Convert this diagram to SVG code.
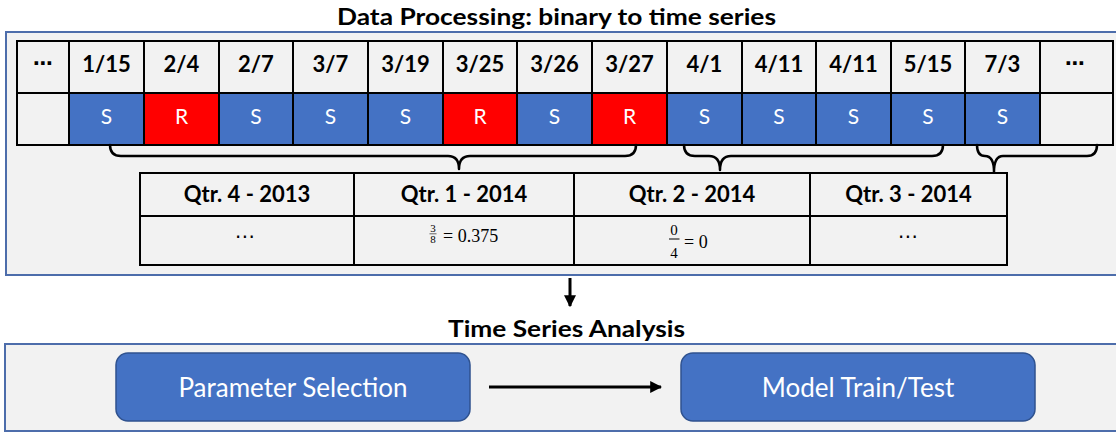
<svg xmlns="http://www.w3.org/2000/svg" width="1116" height="432" viewBox="0 0 1116 432">
<style>
.panel{fill:#f2f2f2;stroke:#4d6dab;stroke-width:2}
.title{font-family:Lato,"Liberation Sans",sans-serif;font-weight:bold;font-size:23px;fill:#000;text-anchor:middle}
.cell{fill:#f2f2f2;stroke:#000;stroke-width:2}
.s{fill:#4472c4;stroke:#000;stroke-width:2}
.r{fill:#ff0000;stroke:#000;stroke-width:2}
.hd{font-family:Lato,"Liberation Sans",sans-serif;font-weight:bold;font-size:22px;fill:#000;text-anchor:middle}
.v{font-family:Lato,"Liberation Sans",sans-serif;font-size:21px;fill:#fff;text-anchor:middle}
.dots{font-family:"DejaVu Sans",sans-serif;font-size:20px;fill:#000;text-anchor:middle}
.math{font-family:"Liberation Serif","DejaVu Serif",serif;fill:#000}
.brace{fill:none;stroke:#000;stroke-width:2.5;stroke-linecap:round;stroke-linejoin:round}
.box{fill:#4472c4;stroke:#2f528f;stroke-width:1.5}
.bt{font-family:Lato,"Liberation Sans",sans-serif;font-size:26px;fill:#fff;text-anchor:middle}
.conn{fill:none;stroke:#000;stroke-width:3}
</style>
<defs>
<marker id="ah" viewBox="0 0 10 10" refX="9" refY="5" markerWidth="4" markerHeight="4" orient="auto" markerUnits="strokeWidth">
<path d="M0,0 L10,5 L0,10 z" fill="#000"/>
</marker>
</defs>
<rect width="1116" height="432" fill="#fff"/>

<g id="processing-panel">
<rect class="panel" x="6" y="32" width="1120" height="243"/>
<text class="title" x="556.5" y="25" textLength="439" lengthAdjust="spacingAndGlyphs">Data Processing: binary to time series</text>
</g>

<g id="date-table">
<rect class="cell" x="17" y="41" width="52" height="52"/>
<rect class="cell" x="69" y="41" width="75" height="52"/>
<rect class="cell" x="144" y="41" width="75" height="52"/>
<rect class="cell" x="219" y="41" width="74" height="52"/>
<rect class="cell" x="293" y="41" width="75" height="52"/>
<rect class="cell" x="368" y="41" width="75" height="52"/>
<rect class="cell" x="443" y="41" width="74" height="52"/>
<rect class="cell" x="517" y="41" width="75" height="52"/>
<rect class="cell" x="592" y="41" width="75" height="52"/>
<rect class="cell" x="667" y="41" width="75" height="52"/>
<rect class="cell" x="742" y="41" width="74" height="52"/>
<rect class="cell" x="816" y="41" width="75" height="52"/>
<rect class="cell" x="891" y="41" width="74" height="52"/>
<rect class="cell" x="965" y="41" width="75" height="52"/>
<rect class="cell" x="1040" y="41" width="73" height="52"/>

<rect class="cell" x="17" y="93" width="52" height="52"/>
<rect class="s" x="69" y="93" width="75" height="52"/>
<rect class="r" x="144" y="93" width="75" height="52"/>
<rect class="s" x="219" y="93" width="74" height="52"/>
<rect class="s" x="293" y="93" width="75" height="52"/>
<rect class="s" x="368" y="93" width="75" height="52"/>
<rect class="r" x="443" y="93" width="74" height="52"/>
<rect class="s" x="517" y="93" width="75" height="52"/>
<rect class="r" x="592" y="93" width="75" height="52"/>
<rect class="s" x="667" y="93" width="75" height="52"/>
<rect class="s" x="742" y="93" width="74" height="52"/>
<rect class="s" x="816" y="93" width="75" height="52"/>
<rect class="s" x="891" y="93" width="74" height="52"/>
<rect class="s" x="965" y="93" width="75" height="52"/>
<rect class="cell" x="1040" y="93" width="73" height="52"/>

<text class="dots" x="43" y="70" font-weight="bold">⋯</text>
<text class="hd" x="106.5" y="72">1/15</text>
<text class="hd" x="181.5" y="72">2/4</text>
<text class="hd" x="256" y="72">2/7</text>
<text class="hd" x="330.5" y="72">3/7</text>
<text class="hd" x="405.5" y="72">3/19</text>
<text class="hd" x="480" y="72">3/25</text>
<text class="hd" x="554.5" y="72">3/26</text>
<text class="hd" x="629.5" y="72">3/27</text>
<text class="hd" x="704.5" y="72">4/1</text>
<text class="hd" x="779" y="72">4/11</text>
<text class="hd" x="853.5" y="72">4/11</text>
<text class="hd" x="928" y="72">5/15</text>
<text class="hd" x="1002.5" y="72">7/3</text>
<text class="dots" x="1075" y="70" font-weight="bold">⋯</text>

<text class="v" x="106.5" y="124">S</text>
<text class="v" x="181.5" y="124">R</text>
<text class="v" x="256" y="124">S</text>
<text class="v" x="330.5" y="124">S</text>
<text class="v" x="405.5" y="124">S</text>
<text class="v" x="480" y="124">R</text>
<text class="v" x="554.5" y="124">S</text>
<text class="v" x="629.5" y="124">R</text>
<text class="v" x="704.5" y="124">S</text>
<text class="v" x="779" y="124">S</text>
<text class="v" x="853.5" y="124">S</text>
<text class="v" x="928" y="124">S</text>
<text class="v" x="1002.5" y="124">S</text>
</g>

<g id="braces">
<path class="brace" d="M110,145 Q110,156 121,156 L448,156 Q459,156 459,169 Q459,156 470,156 L625,156 Q636,156 636,145"/>
<path class="brace" d="M684,145 Q684,156 695,156 L709,156 Q720,156 720,170 Q720,156 731,156 L932,156 Q943,156 943,145"/>
<path class="brace" d="M977,145 Q977,156 985,156 Q994,156 994,172 Q994,156 1003,156 L1087,156 Q1097,156 1097,145"/>
</g>

<g id="quarter-table">
<rect class="cell" x="140" y="173" width="214" height="43"/>
<rect class="cell" x="354" y="173" width="220" height="43"/>
<rect class="cell" x="574" y="173" width="236" height="43"/>
<rect class="cell" x="810" y="173" width="197" height="43"/>
<rect class="cell" x="140" y="216" width="214" height="49"/>
<rect class="cell" x="354" y="216" width="220" height="49"/>
<rect class="cell" x="574" y="216" width="236" height="49"/>
<rect class="cell" x="810" y="216" width="197" height="49"/>
<text class="hd" x="247" y="202">Qtr. 4 - 2013</text>
<text class="hd" x="464" y="202">Qtr. 1 - 2014</text>
<text class="hd" x="692" y="202">Qtr. 2 - 2014</text>
<text class="hd" x="908.5" y="202">Qtr. 3 - 2014</text>
<text class="dots" x="245" y="243" font-size="18">⋯</text>
<text class="dots" x="908" y="243" font-size="18">⋯</text>
<text class="math" x="433" y="232" font-size="11" text-anchor="middle">3</text>
<line x1="429.5" y1="233.8" x2="436.5" y2="233.8" stroke="#000" stroke-width="0.6"/>
<text class="math" x="433" y="243" font-size="11" text-anchor="middle">8</text>
<text class="math" x="443" y="242" font-size="18" xml:space="preserve">= 0.375</text>
<text class="math" x="674" y="235" font-size="15" text-anchor="middle">0</text>
<line x1="669" y1="239" x2="679.5" y2="239" stroke="#000" stroke-width="1"/>
<text class="math" x="674" y="257.5" font-size="15" text-anchor="middle">4</text>
<text class="math" x="684" y="248" font-size="18" xml:space="preserve">= 0</text>
</g>

<g id="analysis-panel">
<rect class="panel" x="5" y="344" width="1120" height="87"/>
<text class="title" x="566.5" y="337" textLength="237" lengthAdjust="spacingAndGlyphs">Time Series Analysis</text>
</g>

<g id="parameter-selection">
<rect class="box" x="116" y="353" width="354" height="68" rx="12"/>
<text class="bt" x="293" y="397">Parameter Selection</text>
</g>

<g id="model-train-test">
<rect class="box" x="681" y="353" width="354" height="68" rx="12"/>
<text class="bt" x="858" y="397">Model Train/Test</text>
</g>

<g id="connectors">
<line class="conn" x1="570" y1="278" x2="570" y2="306" marker-end="url(#ah)"/>
<line class="conn" x1="489" y1="387" x2="661" y2="387" marker-end="url(#ah)"/>
</g>
</svg>
